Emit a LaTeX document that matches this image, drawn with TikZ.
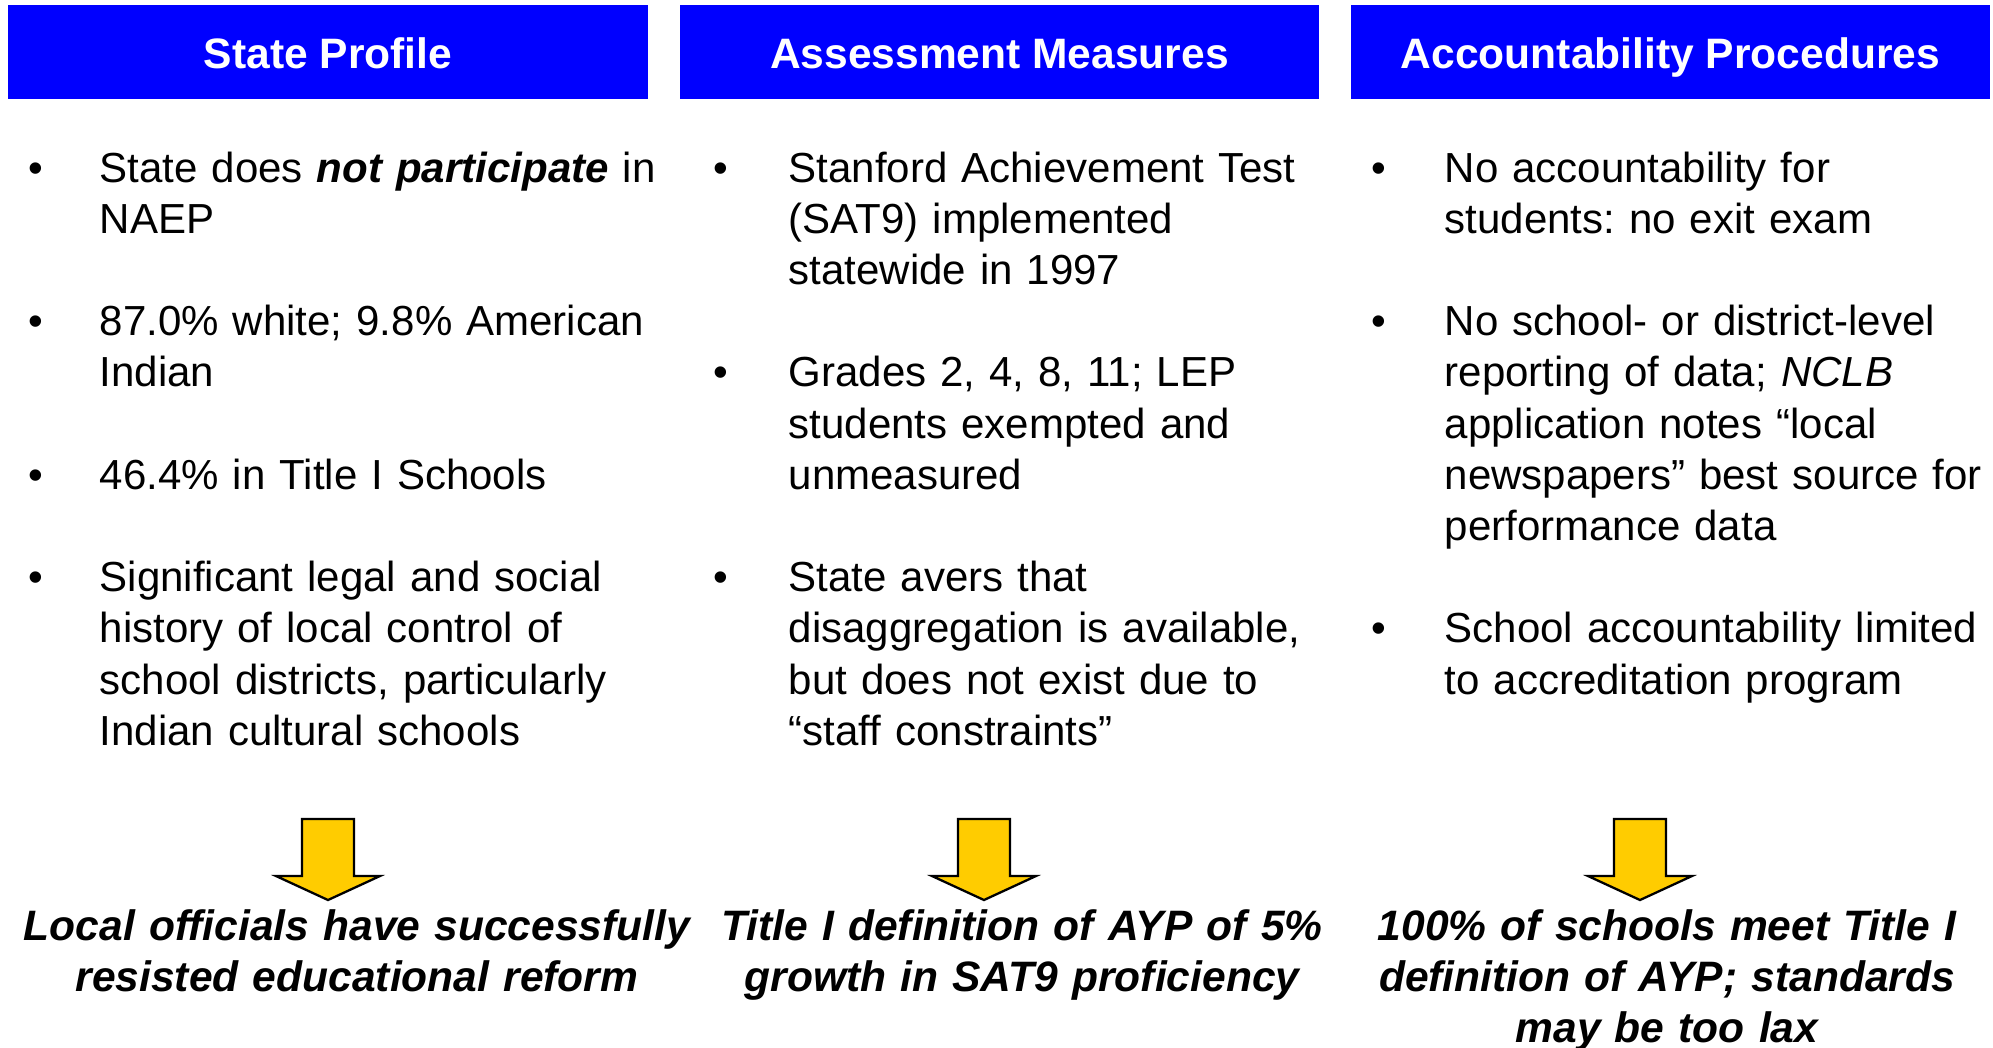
\documentclass[tikz,border=0pt]{standalone}
\usepackage{fontspec}
\setmainfont{Liberation Sans}
\usepackage{xcolor}
\usepackage{tikz}
\frenchspacing

\definecolor{headblue}{HTML}{0000FF}
\definecolor{arrowgold}{HTML}{FFCC00}

\begin{document}
\begin{tikzpicture}[x=0.01cm, y=-0.01cm,
    header/.style={fill=headblue, text=white, inner sep=0pt, minimum width=6.39cm, minimum height=0.94cm,
                   text height=12pt, text depth=2.6pt, font=\fontsize{12.1}{14.5}\selectfont\bfseries},
    item/.style={anchor=base west, align=left, text width=6cm, inner sep=0pt,
                 font=\fontsize{11.95}{14.57}\selectfont},
    dot/.style={anchor=base, inner sep=0pt, font=\fontsize{11.95}{14.57}\selectfont},
    result/.style={anchor=base, align=center, text width=7cm, inner sep=0pt,
                   font=\fontsize{12.1}{14.57}\selectfont\bfseries\itshape}]
             \useasboundingbox (0,0) rectangle (1993,1047);

             % column heads
             \node[header] (prof) at (328, 52) {State Profile};
             \node[header] (meas) at (999.5, 52) {Assessment Measures};
             \node[header] (proc) at (1670.5, 52) {Accountability Procedures};

             % state profile
             \node[dot] (b11) at (36, 182) {•};
             \node[item] (prof1) at (99, 182) {State does \textbf{\textit{not participate}} in\\NAEP};
             \node[dot] (b12) at (36, 335.6) {•};
             \node[item] (prof2) at (99, 335.6) {87.0\% white; 9.8\% American\\Indian};
             \node[dot] (b13) at (36, 489.2) {•};
             \node[item] (prof3) at (99, 489.2) {46.4\% in Title I Schools};
             \node[dot] (b14) at (36, 591.6) {•};
             \node[item] (prof4) at (99, 591.6) {Significant legal and social\\history of local control of\\school districts, particularly\\Indian cultural schools};

             % assessment measures
             \node[dot] (b21) at (721, 182) {•};
             \node[item] (meas1) at (788, 182) {Stanford Achievement Test\\(SAT9) implemented\\statewide in 1997};
             \node[dot] (b22) at (721, 386.8) {•};
             \node[item] (meas2) at (788, 386.8) {Grades 2, 4, 8, 11; LEP\\students exempted and\\unmeasured};
             \node[dot] (b23) at (721, 591.6) {•};
             \node[item] (meas3) at (788, 591.6) {State avers that\\disaggregation is available,\\but does not exist due to\\“staff constraints”};

             % accountability procedures
             \node[dot] (b31) at (1379, 182) {•};
             \node[item] (proc1) at (1444, 182) {No accountability for\\students: no exit exam};
             \node[dot] (b32) at (1379, 335.6) {•};
             \node[item] (proc2) at (1444, 335.6) {No school- or district-level\\reporting of data; \textit{NCLB}\\application notes “local\\newspapers” best source for\\performance data};
             \node[dot] (b33) at (1379, 642.8) {•};
             \node[item] (proc3) at (1444, 642.8) {School accountability limited\\to accreditation program};

             % block arrows
             \draw[fill=arrowgold, line width=0.65pt, line join=miter] (302,819)--(354,819)--(354,876)--(380,876)--(328,900)--(276,876)--(302,876)--cycle;
             \draw[fill=arrowgold, line width=0.65pt, line join=miter] (958,819)--(1010,819)--(1010,876)--(1036,876)--(984,900)--(932,876)--(958,876)--cycle;
             \draw[fill=arrowgold, line width=0.65pt, line join=miter] (1614,819)--(1666,819)--(1666,876)--(1692,876)--(1640,900)--(1588,876)--(1614,876)--cycle;

             % conclusions
             \node[result] (res1) at (357, 940) {Local officials have successfully\\resisted educational reform};
             \node[result] (res2) at (1022, 940) {Title I definition of AYP of 5\%\\growth in SAT9 proficiency};
             \node[result] (res3) at (1667, 940) {100\% of schools meet Title I\\definition of AYP; standards\\may be too lax};

             \end{tikzpicture}
\end{document}
